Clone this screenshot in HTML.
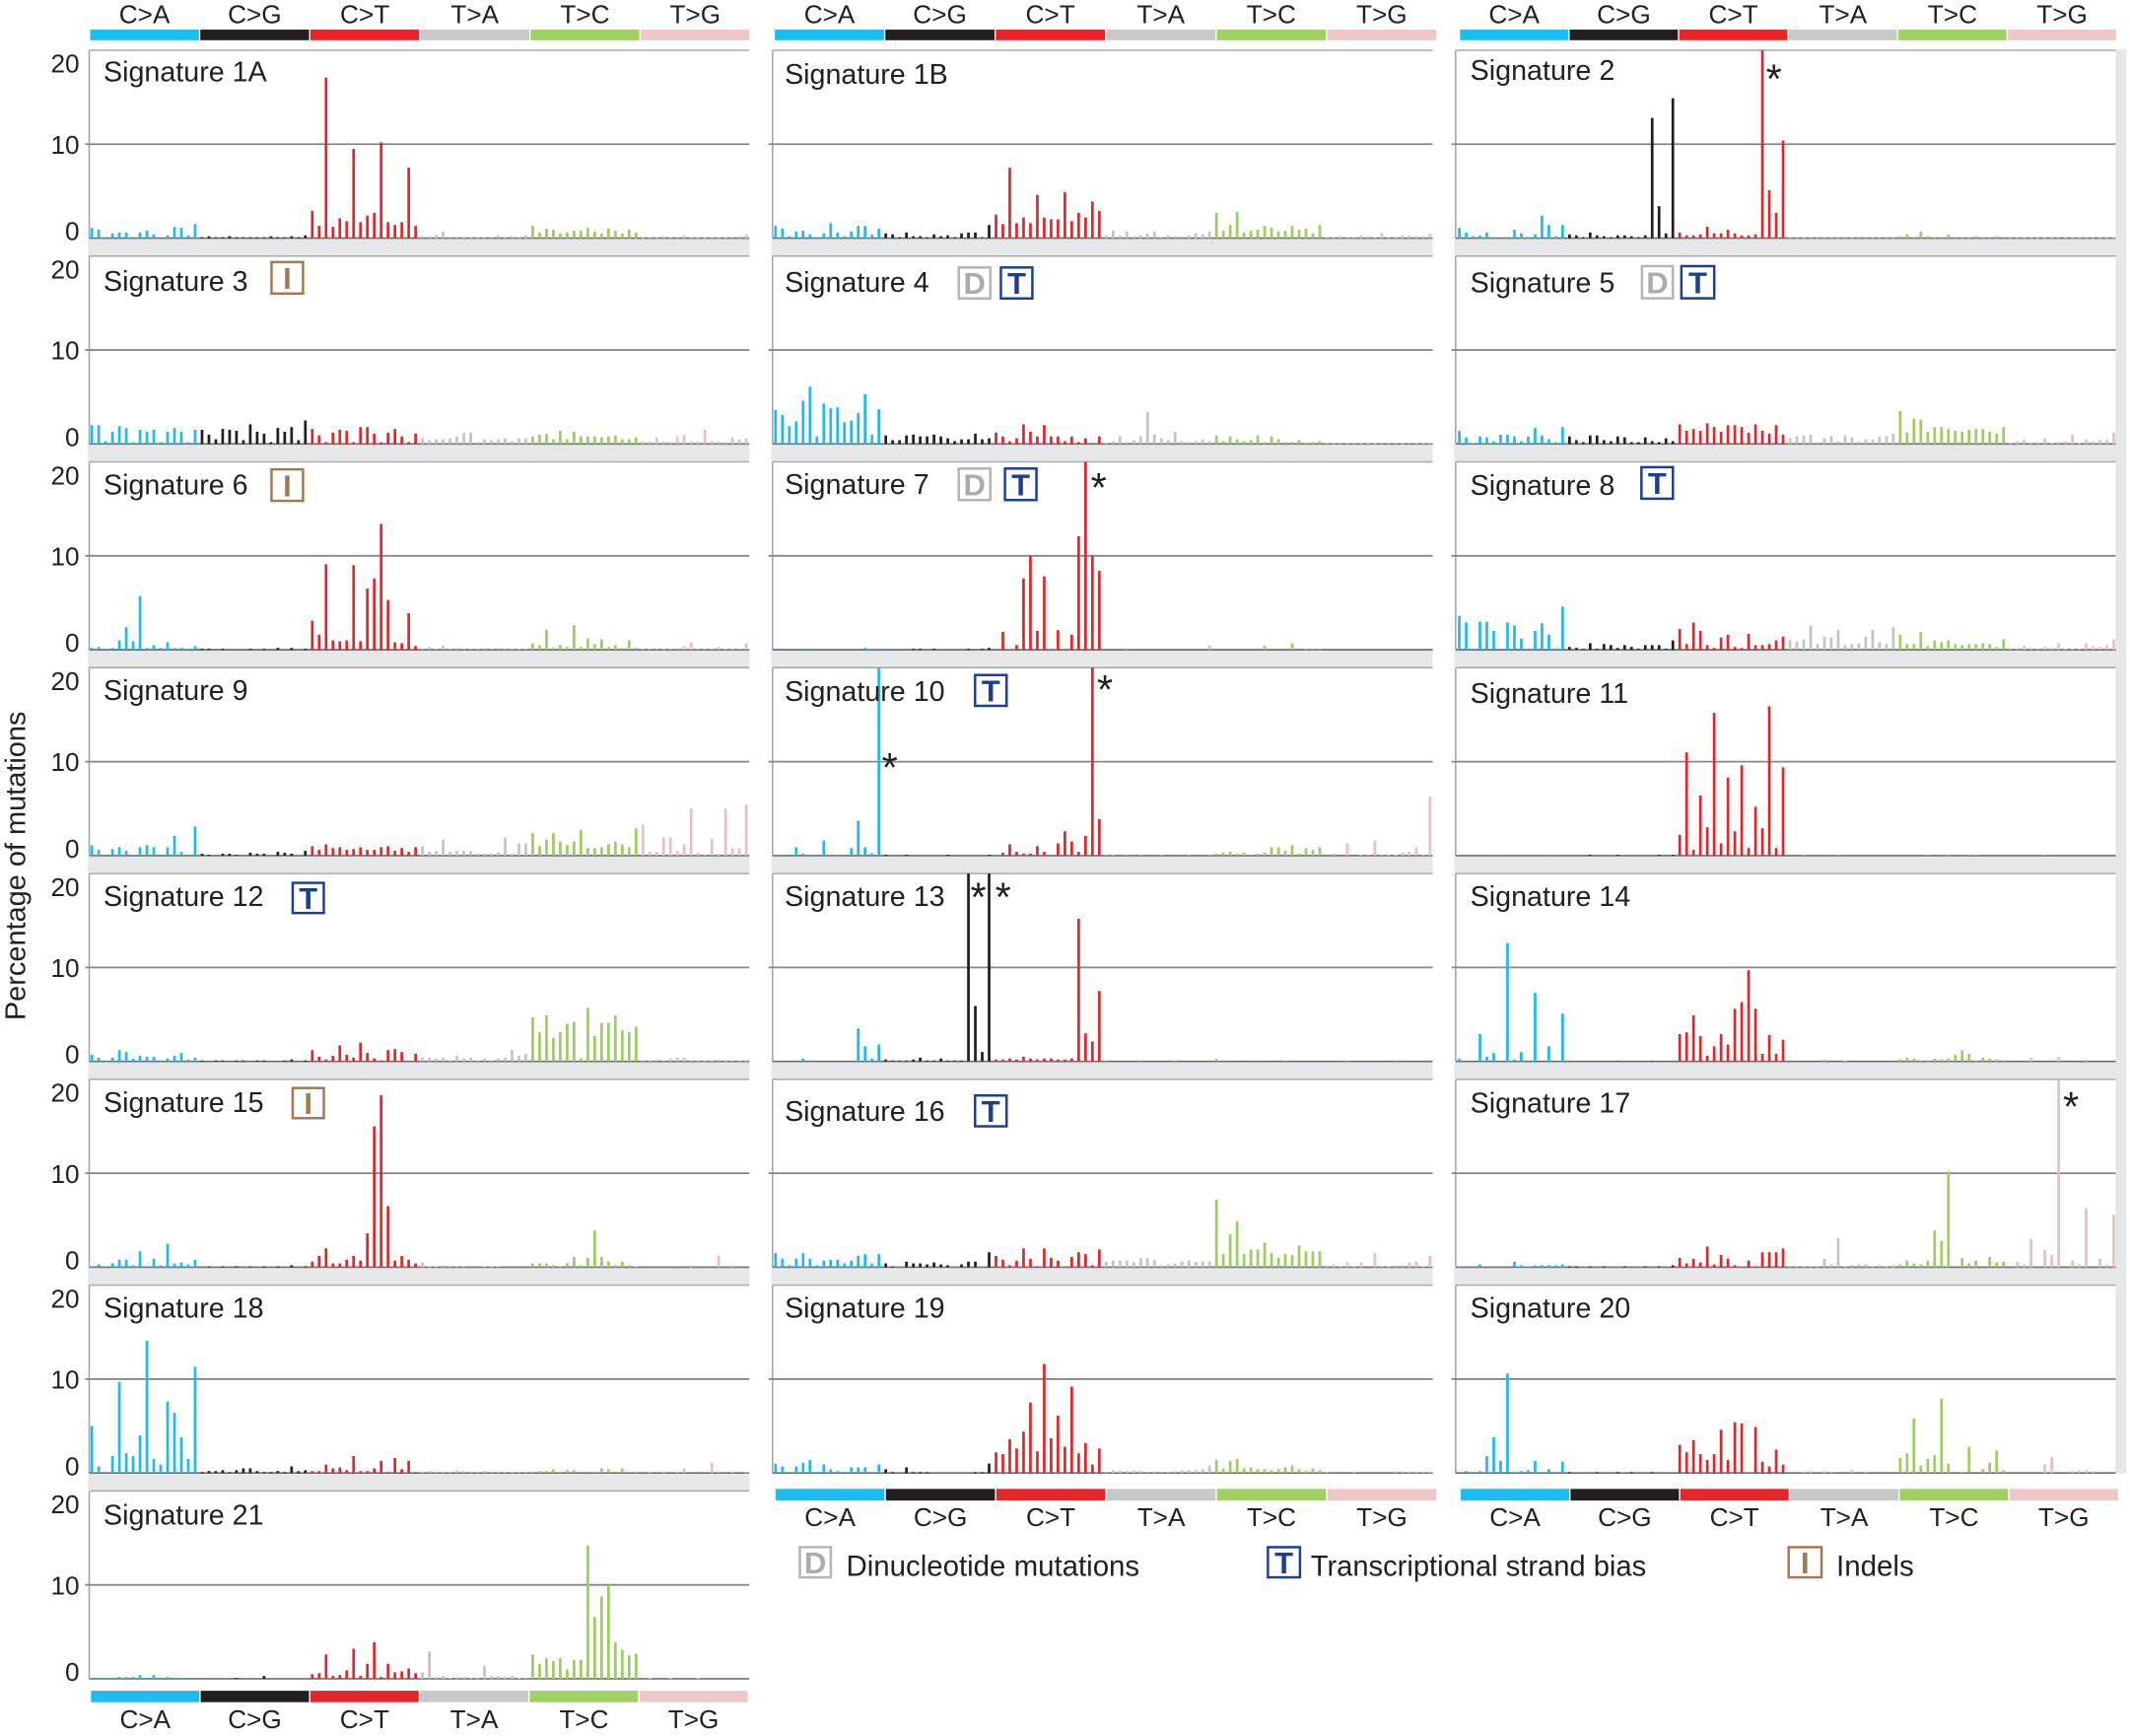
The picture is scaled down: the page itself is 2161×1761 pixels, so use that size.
<!DOCTYPE html>
<html><head><meta charset="utf-8"><style>
html,body{margin:0;padding:0;background:#fff}
svg{display:block}
text{font-family:"Liberation Sans",Arial,Helvetica,sans-serif;fill:#231f20}
.tt{font-size:20.8px}
.tk{font-size:19px;text-anchor:end}
.cl{font-size:19px;text-anchor:middle}
.lg{font-size:21.4px}
.bl{font-size:22.5px;font-weight:bold;text-anchor:middle}
.st{font-size:30px;text-anchor:middle}
.a{stroke:#1ebcee}.g{stroke:#231f20}.r{stroke:#e3262a}.y{stroke:#c3c3c3}.n{stroke:#9ccd5e}.p{stroke:#eabfc1}
.fa{fill:#1ebcee}.fg{fill:#231f20}.fr{fill:#e3262a}.fy{fill:#c8c8c8}.fn{fill:#a0d063}.fp{fill:#eec7c8}
</style></head><body>
<svg xmlns="http://www.w3.org/2000/svg" xmlns:xlink="http://www.w3.org/1999/xlink" width="2161" height="1761" viewBox="0 0 1568.2 1277.9" preserveAspectRatio="none">
<defs>
<path id="t1" d="M0 0V.1M1 0V.1M2 0V.1M3 0V.1M4 0V.1M5 0V.1M6 0V.1M7 0V.1M8 0V.1M9 0V.1M10 0V.1M11 0V.1M12 0V.1M13 0V.1M14 0V.1M15 0V.1"/>
<g id="fr7" fill="none">
<path stroke="#a2a4a7" stroke-width="1.1" d="M0 37V175.3M0 188.5V326.8M0 340V478.3M0 491.5V629.8M0 643V781.3M0 794.5V932.8M0 946V1084.3"/>
<path stroke="#a7a9ac" stroke-width="1.1" d="M0 37H486M0 188.5H486M0 340H486M0 491.5H486M0 643H486M0 794.5H486M0 946H486"/>
<path stroke="#858789" stroke-width="1.3" d="M-3 106.15H486M-3 257.65H486M-3 409.15H486M-3 560.65H486M-3 712.15H486M-3 863.65H486M-3 1015.15H486"/>
<path stroke="#6d6e71" stroke-width="1.2" d="M0 175.3H486M0 326.8H486M0 478.3H486M0 629.8H486M0 781.3H486M0 932.8H486M0 1084.3H486"/>
</g>
</defs>
<rect x="0" y="0" width="1568.2" height="1277.9" fill="#fff"/>

<!-- bands -->
<g fill="#e6e7e8">
<rect x="64.7" y="175.9" width="487.1" height="12"/><rect x="64.7" y="327.4" width="487.1" height="12"/><rect x="64.7" y="478.9" width="487.1" height="12"/><rect x="64.7" y="630.4" width="487.1" height="12"/><rect x="64.7" y="781.9" width="487.1" height="12"/><rect x="64.7" y="933.4" width="487.1" height="12"/><rect x="64.7" y="1084.9" width="487.1" height="12"/>
<rect x="567.8" y="175.9" width="487" height="12"/><rect x="567.8" y="327.4" width="487" height="12"/><rect x="567.8" y="478.9" width="487" height="12"/><rect x="567.8" y="630.4" width="487" height="12"/><rect x="567.8" y="781.9" width="487" height="12"/><rect x="567.8" y="933.4" width="487" height="12"/>
<rect x="1070.7" y="175.9" width="494.8" height="12"/><rect x="1070.7" y="327.4" width="494.8" height="12"/><rect x="1070.7" y="478.9" width="494.8" height="12"/><rect x="1070.7" y="630.4" width="494.8" height="12"/><rect x="1070.7" y="781.9" width="494.8" height="12"/><rect x="1070.7" y="933.4" width="494.8" height="12"/>
<rect x="1557.6" y="36.5" width="8" height="1048"/>
</g>

<!-- frames -->
<use xlink:href="#fr7" href="#fr7" x="65.7" y="0"/>
<use xlink:href="#fr7" href="#fr7" x="568.8" y="0"/>
<use xlink:href="#fr7" href="#fr7" x="1071.7" y="0"/>
<g fill="none">
<path stroke="#a2a4a7" stroke-width="1.1" d="M65.7 1097.5V1235.8"/>
<path stroke="#a7a9ac" stroke-width="1.1" d="M65.7 1097.5H551.7"/>
<path stroke="#858789" stroke-width="1.3" d="M62.7 1166.65H551.7"/>
<path stroke="#6d6e71" stroke-width="1.2" d="M65.7 1235.8H551.7"/>
</g>

<!-- bars -->
<g fill="none" stroke-width=".39">
<!-- Sig 1A -->
<g transform="translate(67.6 175.3) scale(5.072 -6.915)">
<path class="a" d="M0 0V1.1M1 0V.9M2 0V.1M3 0V.5M4 0V.6M5 0V.6M7 0V.6M8 0V.8M9 0V.4M11 0V.3M12 0V1.2M13 0V1.1M14 0V.3M15 0V1.5"/>
<path class="g" transform="translate(16)" d="M0 0V.1M1 0V.2M2 0V.1M3 0V.1M4 0V.2M5 0V.1M6 0V.1M7 0V.1M8 0V.1M9 0V.1M10 0V.2M11 0V.1M12 0V.1M13 0V.2M14 0V.1M15 0V.3"/>
<path class="r" transform="translate(32)" d="M0 0V2.9M1 0V1.3M2 0V17.1M3 0V1.2M4 0V2.1M5 0V1.8M6 0V9.5M7 0V1.7M8 0V2.4M9 0V2.7M10 0V10.2M11 0V1.7M12 0V1.4M13 0V1.7M14 0V7.5M15 0V1.3"/>
<path class="y" transform="translate(48)" d="M0 0V.2M1 0V.2M2 0V.3M3 0V.7M4 0V.1M5 0V.1M6 0V.1M7 0V.1M8 0V.1M9 0V.1M10 0V.1M11 0V.3M12 0V.1M13 0V.2M14 0V.1M15 0V.3"/>
<path class="n" transform="translate(64)" d="M0 0V1.3M1 0V.6M2 0V1M3 0V.9M4 0V.5M5 0V.6M6 0V.8M7 0V.8M8 0V1.1M9 0V.7M10 0V.5M11 0V1M12 0V.8M13 0V.5M14 0V.9M15 0V.6"/>
<path class="p" transform="translate(80)" d="M0 0V.1M1 0V.1M2 0V.1M3 0V.2M4 0V.1M5 0V.1M6 0V.3M7 0V.1M8 0V.1M9 0V.1M10 0V.1M11 0V.1M12 0V.1M13 0V.1M14 0V.2M15 0V.4"/>
</g>
<!-- Sig 3 -->
<g transform="translate(67.6 326.8) scale(5.072 -6.915)">
<path class="a" d="M0 0V2M1 0V2M2 0V.3M3 0V1.3M4 0V1.9M5 0V1.7M6 0V.2M7 0V1.5M8 0V1.3M9 0V1.5M10 0V.2M11 0V1.3M12 0V1.7M13 0V1.3M14 0V.2M15 0V1.5"/>
<path class="g" transform="translate(16)" d="M0 0V1.5M1 0V1M2 0V.5M3 0V1.6M4 0V1.5M5 0V1.4M6 0V.4M7 0V2.1M8 0V1.3M9 0V1.1M10 0V.2M11 0V1.7M12 0V1.3M13 0V1.8M14 0V.4M15 0V2.5"/>
<path class="r" transform="translate(32)" d="M0 0V1.6M1 0V.9M2 0V.2M3 0V1.2M4 0V1.5M5 0V1.4M6 0V.2M7 0V1.8M8 0V1.8M9 0V1.1M10 0V.2M11 0V1.2M12 0V1.6M13 0V.8M14 0V.2M15 0V1.1"/>
<path class="y" transform="translate(48)" d="M0 0V.6M1 0V.4M2 0V.5M3 0V.5M4 0V.6M5 0V.8M6 0V1.2M7 0V1.2M8 0V.2M9 0V.5M10 0V.4M11 0V.5M12 0V.6M13 0V.3M14 0V.6M15 0V.6"/>
<path class="n" transform="translate(64)" d="M0 0V.8M1 0V1M2 0V1.1M3 0V.5M4 0V1.4M5 0V.5M6 0V1.3M7 0V.8M8 0V.8M9 0V.8M10 0V.7M11 0V.8M12 0V.9M13 0V.5M14 0V.5M15 0V.7"/>
<path class="p" transform="translate(80)" d="M0 0V.3M1 0V.3M2 0V.7M3 0V.3M4 0V.2M5 0V.8M6 0V1M7 0V.3M8 0V.3M9 0V1.5M10 0V.3M11 0V.3M12 0V.2M13 0V.7M14 0V.5M15 0V.6"/>
</g>
<!-- Sig 6 -->
<g transform="translate(67.6 478.3) scale(5.072 -6.915)">
<path class="a" d="M0 0V.2M1 0V.3M3 0V.2M4 0V1M5 0V2.4M6 0V.9M7 0V5.7M8 0V.2M9 0V.5M10 0V.2M11 0V.8M12 0V.2M13 0V.2M14 0V.1M15 0V.4"/>
<path class="g" transform="translate(16)" d="M0 0V.1M1 0V.1M3 0V.1M7 0V.1M9 0V.1M11 0V.2M13 0V.2M15 0V.1"/>
<path class="r" transform="translate(32)" d="M0 0V3.1M1 0V1.6M2 0V9.1M3 0V1M4 0V.9M5 0V1M6 0V9M7 0V.9M8 0V6.5M9 0V7.6M10 0V13.4M11 0V5.3M12 0V.8M13 0V.7M14 0V3.9M15 0V.4"/>
<path class="y" transform="translate(48)" d="M0 0V.1M1 0V.3M2 0V.1M3 0V.4M4 0V.1M5 0V.2M6 0V.1M7 0V.1M8 0V.1M9 0V.2M10 0V.1M11 0V.2M12 0V.1M13 0V.1M14 0V.1M15 0V.1"/>
<path class="n" transform="translate(64)" d="M0 0V.7M1 0V.5M2 0V2.1M3 0V.2M4 0V.5M5 0V.3M6 0V2.6M7 0V.3M8 0V1.2M9 0V.6M10 0V1.1M11 0V.3M12 0V.5M13 0V.2M14 0V1M15 0V.2"/>
<path class="p" transform="translate(80)" d="M0 0V.1M1 0V.1M2 0V.2M3 0V.1M4 0V.1M5 0V.2M6 0V.4M7 0V.8M8 0V.1M9 0V.1M10 0V.1M11 0V.3M12 0V.1M13 0V.1M14 0V.1M15 0V.7"/>
</g>
<!-- Sig 9 -->
<g transform="translate(67.6 629.8) scale(5.072 -6.915)">
<path class="a" d="M0 0V1.1M1 0V.6M3 0V.7M4 0V.9M5 0V.5M7 0V.9M8 0V1.1M9 0V.9M11 0V.9M12 0V2.1M13 0V.4M15 0V3.1"/>
<path class="g" transform="translate(16)" d="M0 0V.2M1 0V.1M3 0V.2M4 0V.2M5 0V.1M7 0V.3M8 0V.2M9 0V.2M11 0V.4M12 0V.3M13 0V.2M15 0V.5"/>
<path class="r" transform="translate(32)" d="M0 0V1M1 0V.6M2 0V1.2M3 0V.8M4 0V.9M5 0V.6M6 0V.7M7 0V.9M8 0V.6M9 0V.6M10 0V.9M11 0V1M12 0V.5M13 0V.8M14 0V.4M15 0V.9"/>
<path class="y" transform="translate(48)" d="M0 0V1M1 0V.4M2 0V.5M3 0V1.7M4 0V.4M5 0V.5M6 0V.5M7 0V.5M8 0V.2M9 0V.2M10 0V.2M11 0V.3M12 0V1.9M13 0V.2M14 0V1.3M15 0V1.3"/>
<path class="n" transform="translate(64)" d="M0 0V2.4M1 0V1M2 0V1.7M3 0V2.4M4 0V1.5M5 0V1.1M6 0V1.5M7 0V2.7M8 0V.8M9 0V.8M10 0V.9M11 0V1.2M12 0V1.5M13 0V1.2M14 0V.9M15 0V2.9"/>
<path class="p" transform="translate(80)" d="M0 0V3.3M1 0V.4M2 0V.4M3 0V1.9M4 0V1.9M5 0V.5M6 0V1.2M7 0V5M8 0V.3M9 0V.1M10 0V1.8M11 0V.2M12 0V5M13 0V.8M14 0V.8M15 0V5.4"/>
</g>
<!-- Sig 12 -->
<g transform="translate(67.6 781.3) scale(5.072 -6.915)">
<path class="a" d="M0 0V.7M1 0V.4M2 0V.1M3 0V.4M4 0V1.2M5 0V1M6 0V.3M7 0V.6M8 0V.5M9 0V.5M10 0V.1M11 0V.3M12 0V.6M13 0V.9M14 0V.2M15 0V.4"/>
<path class="g" transform="translate(16)" d="M0 0V.1M2 0V.1M3 0V.1M5 0V.1M6 0V.1M8 0V.1M9 0V.1M12 0V.1M13 0V.2M15 0V.1"/>
<path class="r" transform="translate(32)" d="M0 0V1.2M1 0V.5M2 0V.2M3 0V.6M4 0V1.7M5 0V.7M6 0V.4M7 0V2M8 0V.9M9 0V.3M10 0V.1M11 0V1.2M12 0V1.3M13 0V1M15 0V.8"/>
<path class="y" transform="translate(48)" d="M0 0V.4M1 0V.4M2 0V.3M3 0V.4M4 0V.1M5 0V.6M6 0V.3M7 0V.4M8 0V.1M9 0V.3M10 0V.1M11 0V.3M12 0V.4M13 0V1.2M14 0V.6M15 0V.8"/>
<path class="n" transform="translate(64)" d="M0 0V4.7M1 0V3.1M2 0V4.9M3 0V2.5M4 0V3.1M5 0V4M6 0V4.2M7 0V.3M8 0V5.7M9 0V2.7M10 0V4.1M11 0V4.1M12 0V4.9M13 0V3.3M14 0V3.1M15 0V3.7"/>
<path class="p" transform="translate(80)" d="M0 0V.1M1 0V.1M2 0V.2M3 0V.1M4 0V.3M5 0V.4M6 0V.4M7 0V.1M8 0V.1M9 0V.1M10 0V.1M11 0V.2M12 0V.1M13 0V.1M14 0V.1M15 0V.1"/>
</g>
<!-- Sig 15 -->
<g transform="translate(67.6 932.8) scale(5.072 -6.915)">
<path class="a" d="M0 0V.1M1 0V.3M3 0V.4M4 0V.8M5 0V.8M6 0V.2M7 0V1.7M8 0V.1M9 0V.9M10 0V.2M11 0V2.5M12 0V.4M13 0V.5M14 0V.3M15 0V.8"/>
<path class="g" transform="translate(16)" d="M1 0V.1M3 0V.1M5 0V.1M7 0V.1M9 0V.1M11 0V.1M13 0V.2M15 0V.1"/>
<path class="r" transform="translate(32)" d="M0 0V.6M1 0V1.2M2 0V2M3 0V.4M4 0V.4M5 0V.8M6 0V1.2M7 0V.7M8 0V3.6M9 0V15M10 0V18.3M11 0V6.5M12 0V.7M13 0V1.2M14 0V.8M15 0V.4"/>
<path class="y" transform="translate(48)" d="M0 0V.5M1 0V.1M2 0V.1M3 0V.2M4 0V.1M5 0V.1M6 0V.1M9 0V.1M10 0V.1M11 0V.1"/>
<path class="n" transform="translate(64)" d="M0 0V.4M1 0V.4M2 0V.4M3 0V.2M4 0V.1M5 0V.4M6 0V1.1M7 0V.2M8 0V1M9 0V3.9M10 0V1.1M11 0V.6M12 0V.2M13 0V.6M14 0V.2M15 0V.1"/>
<path class="p" transform="translate(80)" d="M7 0V.2M11 0V1.2M13 0V.2"/>
</g>
<!-- Sig 18 -->
<g transform="translate(67.6 1084.3) scale(5.072 -6.915)">
<path class="a" d="M0 0V5M1 0V.7M2 0V.1M3 0V1.8M4 0V9.7M5 0V2.1M6 0V1.8M7 0V4M8 0V14.1M9 0V1.5M10 0V.9M11 0V7.6M12 0V6.4M13 0V3.8M14 0V1.5M15 0V11.3"/>
<path class="g" transform="translate(16)" d="M0 0V.1M1 0V.2M2 0V.2M3 0V.3M4 0V.1M5 0V.3M6 0V.5M7 0V.5M8 0V.2M9 0V.1M10 0V.1M11 0V.2M12 0V.1M13 0V.7M14 0V.2M15 0V.3"/>
<path class="r" transform="translate(32)" d="M0 0V.2M1 0V.2M2 0V.9M3 0V.5M4 0V.6M5 0V.3M6 0V1.8M7 0V.2M8 0V.2M9 0V.5M10 0V1.3M11 0V.1M12 0V1.6M13 0V.4M14 0V1.3M15 0V.1"/>
<path class="y" transform="translate(48)" d="M0 0V.1M1 0V.2M2 0V.1M3 0V.1M4 0V.1M5 0V.3M6 0V.2M7 0V.1M8 0V.1M9 0V.2M10 0V.1M11 0V.1M12 0V.1M13 0V.1M14 0V.1M15 0V.1"/>
<path class="n" transform="translate(64)" d="M0 0V.1M1 0V.2M2 0V.2M3 0V.4M4 0V.1M5 0V.3M6 0V.3M9 0V.1M10 0V.5M11 0V.4M13 0V.5M14 0V.1M15 0V.1"/>
<path class="p" transform="translate(80)" d="M1 0V.1M3 0V.1M5 0V.1M6 0V.5M10 0V1.1M11 0V.2M13 0V.1M15 0V.1"/>
</g>
<!-- Sig 21 -->
<g transform="translate(67.6 1235.8) scale(5.072 -6.915)">
<path class="a" d="M0 0V.1M1 0V.1M2 0V.1M3 0V.1M4 0V.2M5 0V.2M6 0V.2M7 0V.4M8 0V.1M9 0V.4M10 0V.1M11 0V.2M12 0V.1M13 0V.1M15 0V.1"/>
<path class="g" transform="translate(16)" d="M5 0V.1M9 0V.3"/>
<path class="r" transform="translate(32)" d="M0 0V.5M1 0V.6M2 0V2.6M3 0V.3M4 0V.4M5 0V.9M6 0V3.2M7 0V.3M8 0V1.6M9 0V3.9M10 0V.2M11 0V1.6M12 0V.7M13 0V.8M14 0V1.1M15 0V.6"/>
<path class="y" transform="translate(48)" d="M0 0V.7M1 0V2.9M2 0V.2M3 0V.3M4 0V.1M5 0V.2M6 0V.2M7 0V.1M8 0V.1M9 0V1.4M10 0V.3M11 0V.3M12 0V.2M13 0V.3M14 0V.1M15 0V.1"/>
<path class="n" transform="translate(64)" d="M0 0V2.6M1 0V1.6M2 0V2.2M3 0V1.9M4 0V2.2M5 0V1M6 0V2M7 0V2M8 0V14.2M9 0V6.6M10 0V8.8M11 0V10M12 0V3.9M13 0V3.1M14 0V2.5M15 0V2.7"/>
<path class="p" transform="translate(80)" d="M1 0V.1M4 0V.1M8 0V.1"/>
</g>

<!-- Sig 1B -->
<g transform="translate(571 175.3) scale(5.072 -6.915)">
<path class="a" d="M0 0V1.3M1 0V1M2 0V.2M3 0V.7M4 0V.8M5 0V.4M6 0V.1M7 0V.5M8 0V1.6M9 0V.6M10 0V.2M11 0V.7M12 0V1.3M13 0V1.3M14 0V.4M15 0V1"/>
<path class="g" transform="translate(16)" d="M0 0V.5M1 0V.4M2 0V.1M3 0V.6M4 0V.2M5 0V.2M6 0V.1M7 0V.4M8 0V.2M9 0V.3M10 0V.1M11 0V.5M12 0V.6M13 0V.6M14 0V.1M15 0V1.4"/>
<path class="r" transform="translate(32)" d="M0 0V2.5M1 0V1.5M2 0V7.5M3 0V1.6M4 0V2.2M5 0V1.6M6 0V4.6M7 0V2.2M8 0V2M9 0V2M10 0V4.9M11 0V1.8M12 0V2.7M13 0V2.2M14 0V3.9M15 0V2.9"/>
<path class="y" transform="translate(48)" d="M0 0V.3M1 0V.8M2 0V.3M3 0V.7M4 0V.2M5 0V.3M6 0V.5M7 0V.7M8 0V.1M9 0V.3M10 0V.2M11 0V.2M12 0V.3M13 0V.5M14 0V.4M15 0V.7"/>
<path class="n" transform="translate(64)" d="M0 0V2.7M1 0V.8M2 0V1.4M3 0V2.8M4 0V.6M5 0V.8M6 0V.9M7 0V1.3M8 0V1.1M9 0V.7M10 0V.8M11 0V1.3M12 0V.9M13 0V1M14 0V.5M15 0V1.4"/>
<path class="p" transform="translate(80)" d="M0 0V.1M1 0V.1M2 0V.2M3 0V.1M4 0V.1M5 0V.3M6 0V.2M7 0V.1M8 0V.6M9 0V.1M10 0V.1M11 0V.3M12 0V.3M13 0V.2M14 0V.2M15 0V.5"/>
</g>
<!-- Sig 4 -->
<g transform="translate(571 326.8) scale(5.072 -6.915)">
<path class="a" d="M0 0V3.6M1 0V3.1M2 0V1.9M3 0V2.4M4 0V4.6M5 0V6.1M6 0V.8M7 0V4.3M8 0V3.8M9 0V3.9M10 0V2.3M11 0V2.5M12 0V3.3M13 0V5.3M14 0V1M15 0V3.7"/>
<path class="g" transform="translate(16)" d="M0 0V.9M1 0V.4M2 0V.4M3 0V.9M4 0V1M5 0V.8M6 0V.8M7 0V1M8 0V.8M9 0V.6M10 0V.3M11 0V.5M12 0V.5M13 0V1.1M14 0V.5M15 0V.6"/>
<path class="r" transform="translate(32)" d="M0 0V1.2M1 0V.8M2 0V.3M3 0V.6M4 0V2.1M5 0V1.3M6 0V.8M7 0V2M8 0V.8M9 0V.8M10 0V.3M11 0V.8M12 0V.2M13 0V.6M14 0V.1M15 0V.8"/>
<path class="y" transform="translate(48)" d="M0 0V.1M1 0V.3M2 0V.8M3 0V.2M4 0V.4M5 0V.8M6 0V3.4M7 0V1M8 0V.6M9 0V.4M10 0V1.3M11 0V.3M12 0V.2M13 0V.3M14 0V.5M15 0V.3"/>
<path class="n" transform="translate(64)" d="M0 0V.9M1 0V.3M2 0V.8M3 0V.5M4 0V.3M5 0V.4M6 0V.9M7 0V.2M8 0V.8M9 0V.5M10 0V.2M11 0V.2M12 0V.4M13 0V.1M14 0V.2M15 0V.3"/>
<use class="p" xlink:href="#t1" href="#t1" transform="translate(80)"/>
</g>
<!-- Sig 7 -->
<g transform="translate(571 478.3) scale(5.072 -6.915)">
<path class="a" d="M0 0V.1M5 0V.1M13 0V.2M15 0V.1"/>
<path class="g" transform="translate(16)" d="M4 0V.1M5 0V.1M7 0V.1M12 0V.1M14 0V.1M15 0V.2"/>
<path class="r" transform="translate(32)" d="M1 0V1.9M3 0V.5M4 0V7.6M5 0V10M6 0V2M7 0V7.8M9 0V2.1M11 0V1.6M12 0V12.1M13 0V20M14 0V10M15 0V8.4"/>
<path class="y" transform="translate(48)" d="M3 0V.2M15 0V.5"/>
<path class="n" transform="translate(64)" d="M7 0V.4M11 0V.7M13 0V.1M14 0V.1M15 0V.1"/>
</g>
<!-- Sig 10 -->
<g transform="translate(571 629.8) scale(5.072 -6.915)">
<path class="a" d="M3 0V.9M4 0V.2M7 0V1.6M8 0V.1M9 0V.1M11 0V.8M12 0V3.7M13 0V.9M14 0V.2M15 0V20"/>
<path class="g" transform="translate(16)" d="M0 0V.1M3 0V.1M9 0V.1M15 0V.1"/>
<path class="r" transform="translate(32)" d="M1 0V.3M2 0V1.2M3 0V.4M4 0V.2M5 0V.2M6 0V1M7 0V.4M9 0V1.3M10 0V2.6M11 0V1.5M12 0V.4M13 0V2.1M14 0V20M15 0V3.9"/>
<path class="y" transform="translate(48)" d="M0 0V.1M1 0V.1M3 0V.1M5 0V.1M8 0V.1M12 0V.1M15 0V.1"/>
<path class="n" transform="translate(64)" d="M0 0V.2M1 0V.3M2 0V.4M3 0V.2M4 0V.3M5 0V.1M6 0V.2M7 0V.3M8 0V.9M9 0V.9M10 0V.5M11 0V1.1M12 0V.2M13 0V.8M14 0V.6M15 0V.9"/>
<path class="p" transform="translate(80)" d="M1 0V.2M3 0V1.3M5 0V.1M6 0V.1M7 0V1.6M8 0V.1M9 0V.1M10 0V.1M11 0V.3M12 0V.4M13 0V.9M14 0V.1M15 0V6.3"/>
</g>
<!-- Sig 13 -->
<g transform="translate(571 781.3) scale(5.072 -6.915)">
<path class="a" d="M4 0V.3M5 0V.1M12 0V3.5M13 0V1.6M14 0V.3M15 0V1.8"/>
<path class="g" transform="translate(16)" d="M0 0V.2M1 0V.1M2 0V.1M3 0V.1M4 0V.2M5 0V.4M6 0V.1M7 0V.1M8 0V.3M9 0V.1M10 0V.1M11 0V.1M12 0V20M13 0V5.9M14 0V1M15 0V20"/>
<path class="r" transform="translate(32)" d="M0 0V.2M1 0V.2M2 0V.3M3 0V.2M4 0V.5M5 0V.3M6 0V.2M7 0V.3M8 0V.3M9 0V.2M10 0V.2M11 0V.3M12 0V15.2M13 0V3M14 0V2.1M15 0V7.5"/>
<path class="y" transform="translate(48)" d="M0 0V.05M5 0V.05M10 0V.05"/>
<path class="n" transform="translate(64)" d="M0 0V.3M5 0V.05M10 0V.05"/>
<path class="p" transform="translate(80)" d="M3 0V.05M10 0V.05"/>
</g>
<!-- Sig 16 -->
<g transform="translate(571 932.8) scale(5.072 -6.915)">
<path class="a" d="M0 0V1.5M1 0V.9M2 0V.2M3 0V.9M4 0V1.5M5 0V.9M6 0V.2M7 0V.7M8 0V.8M9 0V.8M10 0V.4M11 0V.7M12 0V1.2M13 0V1.4M14 0V.4M15 0V1.4"/>
<path class="g" transform="translate(16)" d="M0 0V.4M1 0V.1M3 0V.6M4 0V.4M5 0V.4M6 0V.3M7 0V.5M8 0V.3M9 0V.2M11 0V.3M12 0V.6M13 0V.6M15 0V1.6"/>
<path class="r" transform="translate(32)" d="M0 0V1.2M1 0V.8M2 0V.2M3 0V.7M4 0V2M5 0V.9M6 0V.1M7 0V2M8 0V1M9 0V.7M11 0V1.1M12 0V1.6M13 0V1.4M14 0V.2M15 0V1.9"/>
<path class="y" transform="translate(48)" d="M0 0V.6M1 0V.7M2 0V.7M3 0V.7M4 0V.5M5 0V1M6 0V1M7 0V.8M8 0V.2M9 0V.3M10 0V.4M11 0V.6M12 0V.7M13 0V.6M14 0V.6M15 0V.6"/>
<path class="n" transform="translate(64)" d="M0 0V7.2M1 0V1.4M2 0V3.5M3 0V4.9M4 0V1.4M5 0V1.9M6 0V1.9M7 0V2.6M8 0V1.5M9 0V1M10 0V1.4M11 0V1.3M12 0V2.3M13 0V1.7M14 0V1.7M15 0V1.7"/>
<path class="p" transform="translate(80)" d="M0 0V.2M1 0V.3M2 0V.1M3 0V.5M4 0V.1M5 0V.5M7 0V1.5M8 0V.1M9 0V.1M10 0V.2M11 0V.2M12 0V.5M13 0V.6M14 0V.1M15 0V1.2"/>
</g>
<!-- Sig 19 -->
<g transform="translate(571 1084.3) scale(5.072 -6.915)">
<path class="a" d="M0 0V1M1 0V.7M3 0V.7M4 0V1.1M5 0V1.4M6 0V.1M7 0V.9M8 0V.4M9 0V.2M11 0V.6M12 0V.6M13 0V.6M14 0V.1M15 0V.9"/>
<path class="g" transform="translate(16)" d="M0 0V.4M1 0V.1M3 0V.6M4 0V.1M5 0V.1M6 0V.1M13 0V.1M14 0V.1M15 0V1"/>
<path class="r" transform="translate(32)" d="M0 0V2.2M1 0V2M2 0V3.6M3 0V2.6M4 0V4.4M5 0V7.5M6 0V2.3M7 0V11.6M8 0V3.7M9 0V6.1M10 0V2.8M11 0V9.2M12 0V2.1M13 0V3.2M14 0V.9M15 0V2.6"/>
<path class="y" transform="translate(48)" d="M0 0V.1M1 0V.3M2 0V.2M3 0V.2M4 0V.3M5 0V.2M6 0V.1M7 0V.1M8 0V.1M9 0V.1M10 0V.2M11 0V.3M12 0V.3M13 0V.3M14 0V.4M15 0V.8"/>
<path class="n" transform="translate(64)" d="M0 0V1.4M1 0V.5M2 0V1.3M3 0V1.5M4 0V.5M5 0V.6M6 0V.4M7 0V.4M8 0V.3M9 0V.4M10 0V.6M11 0V.8M12 0V.4M13 0V.2M14 0V.5M15 0V.3"/>
<path class="p" transform="translate(80)" d="M0 0V.1M4 0V.1M10 0V.2M11 0V.2M12 0V.1M13 0V.1M14 0V.1M15 0V.1"/>
</g>

<!-- Sig 2 -->
<g transform="translate(1074.4 175.3) scale(5.072 -6.915)">
<path class="a" d="M0 0V1.1M1 0V.6M2 0V.2M3 0V.3M4 0V.6M5 0V.1M7 0V.1M8 0V.9M9 0V.5M10 0V.1M11 0V.4M12 0V2.4M13 0V1.4M14 0V.2M15 0V1.4"/>
<path class="g" transform="translate(16)" d="M0 0V.4M1 0V.3M2 0V.1M3 0V.6M4 0V.3M5 0V.2M6 0V.1M7 0V.3M8 0V.3M9 0V.2M10 0V.1M11 0V.3M12 0V12.8M13 0V3.4M14 0V.5M15 0V14.9"/>
<path class="r" transform="translate(32)" d="M0 0V.6M1 0V.3M2 0V.3M3 0V.4M4 0V1.2M5 0V.5M6 0V.5M7 0V.9M8 0V.5M9 0V.3M10 0V.3M11 0V.4M12 0V20M13 0V5.1M14 0V2.7M15 0V10.4"/>
<use class="y" xlink:href="#t1" href="#t1" transform="translate(48)"/>
<path class="n" transform="translate(64)" d="M0 0V.2M1 0V.4M2 0V.1M3 0V.7M4 0V.2M5 0V.1M6 0V.1M7 0V.4M8 0V.1M9 0V.1M10 0V.1M11 0V.2M12 0V.1M13 0V.1M14 0V.2M15 0V.1"/>
<use class="p" xlink:href="#t1" href="#t1" transform="translate(80)"/>
</g>
<!-- Sig 5 -->
<g transform="translate(1074.4 326.8) scale(5.072 -6.915)">
<path class="a" d="M0 0V1.4M1 0V.7M2 0V.1M3 0V.8M4 0V.7M5 0V.3M6 0V1M7 0V1M8 0V.8M9 0V.3M10 0V.8M11 0V1.7M12 0V.9M13 0V.5M14 0V.2M15 0V1.8"/>
<path class="g" transform="translate(16)" d="M0 0V.8M1 0V.4M2 0V.2M3 0V.9M4 0V.9M5 0V.4M6 0V.3M7 0V.8M8 0V.7M9 0V.2M10 0V.2M11 0V.7M12 0V.3M13 0V.2M14 0V.6M15 0V.3"/>
<path class="r" transform="translate(32)" d="M0 0V2.1M1 0V1.4M2 0V1.6M3 0V1.4M4 0V2.2M5 0V1.8M6 0V1.3M7 0V2M8 0V2M9 0V1.8M10 0V1.2M11 0V2.1M12 0V1.4M13 0V1.1M14 0V2M15 0V1"/>
<path class="y" transform="translate(48)" d="M0 0V.6M1 0V.8M2 0V.9M3 0V1M4 0V.2M5 0V.6M6 0V.8M7 0V.3M8 0V.9M9 0V.7M10 0V.3M11 0V.5M12 0V.5M13 0V.8M14 0V.8M15 0V1.1"/>
<path class="n" transform="translate(64)" d="M0 0V3.5M1 0V1.2M2 0V2.7M3 0V2.6M4 0V1.3M5 0V1.8M6 0V1.8M7 0V1.6M8 0V1.4M9 0V1.3M10 0V1.5M11 0V1.6M12 0V1.6M13 0V1.3M14 0V1.1M15 0V1.8"/>
<path class="p" transform="translate(80)" d="M0 0V.1M1 0V.3M2 0V.5M3 0V.2M4 0V.2M5 0V.6M6 0V.1M7 0V.2M8 0V.3M9 0V1M10 0V.1M11 0V.5M12 0V.3M13 0V.4M14 0V.5M15 0V1.2"/>
</g>
<!-- Sig 8 -->
<g transform="translate(1074.4 478.3) scale(5.072 -6.915)">
<path class="a" d="M0 0V3.6M1 0V2.9M2 0V.1M3 0V3M4 0V3M5 0V2M7 0V2.9M8 0V2.6M9 0V1.2M11 0V2M12 0V2.8M13 0V1.6M14 0V.1M15 0V4.6"/>
<path class="g" transform="translate(16)" d="M0 0V.3M1 0V.2M2 0V.1M3 0V.7M4 0V.1M5 0V.6M6 0V.5M7 0V.2M8 0V.5M9 0V.3M10 0V.1M11 0V.5M12 0V.5M13 0V.5M14 0V.1M15 0V1"/>
<path class="r" transform="translate(32)" d="M0 0V2.2M1 0V.6M2 0V2.9M3 0V2M4 0V.5M5 0V.2M6 0V1.3M7 0V1.6M8 0V.3M9 0V.2M10 0V1.7M11 0V.5M12 0V.5M13 0V.6M14 0V1M15 0V1.4"/>
<path class="y" transform="translate(48)" d="M0 0V1M1 0V.9M2 0V1.1M3 0V2.6M4 0V.6M5 0V1.4M6 0V1.3M7 0V2.1M8 0V.5M9 0V.6M10 0V.7M11 0V1.4M12 0V2.1M13 0V.8M14 0V.6M15 0V2.4"/>
<path class="n" transform="translate(64)" d="M0 0V1.6M1 0V.6M2 0V.6M3 0V1.9M4 0V.4M5 0V1M6 0V.8M7 0V1M8 0V.6M9 0V.5M10 0V.6M11 0V.6M12 0V.7M13 0V.6M14 0V.3M15 0V1.1"/>
<path class="p" transform="translate(80)" d="M0 0V.2M1 0V.2M2 0V.4M3 0V.2M4 0V.1M5 0V.3M6 0V.2M7 0V.7M8 0V.1M9 0V.1M10 0V.1M11 0V.7M12 0V.4M13 0V.3M14 0V.5M15 0V1.1"/>
</g>
<!-- Sig 11 -->
<g transform="translate(1074.4 629.8) scale(5.072 -6.915)">
<path class="a" d="M5 0V.1M13 0V.1"/>
<path class="g" transform="translate(16)" d="M3 0V.1M7 0V.1M13 0V.1M15 0V.1"/>
<path class="r" transform="translate(32)" d="M0 0V2.2M1 0V11M2 0V.6M3 0V6.4M4 0V3M5 0V15.2M6 0V1.3M7 0V8.3M8 0V2.6M9 0V9.6M10 0V.8M11 0V5.2M12 0V2.9M13 0V15.9M14 0V.8M15 0V9.4"/>
<path class="y" transform="translate(48)" d="M2 0V.05M7 0V.05"/>
<path class="n" transform="translate(64)" d="M4 0V.1M7 0V.1M10 0V.1M11 0V.1"/>
<path class="p" transform="translate(80)" d="M5 0V.05"/>
</g>
<!-- Sig 14 -->
<g transform="translate(1074.4 781.3) scale(5.072 -6.915)">
<path class="a" d="M0 0V.3M3 0V2.9M4 0V.5M5 0V.9M7 0V12.6M8 0V.2M9 0V1M11 0V7.3M13 0V1.6M15 0V5.1"/>
<path class="g" transform="translate(16)" d="M7 0V.05M12 0V.05"/>
<path class="r" transform="translate(32)" d="M0 0V2.9M1 0V3.1M2 0V4.9M3 0V2.7M4 0V.6M5 0V1.6M6 0V2.9M7 0V1.8M8 0V5.6M9 0V6.3M10 0V9.7M11 0V5.6M12 0V.8M13 0V2.8M14 0V.8M15 0V2.3"/>
<path class="y" transform="translate(48)" d="M5 0V.2M8 0V.1"/>
<path class="n" transform="translate(64)" d="M0 0V.2M1 0V.4M2 0V.3M3 0V.1M4 0V.1M5 0V.3M6 0V.2M7 0V.3M8 0V.7M9 0V1.2M10 0V.8M11 0V.1M12 0V.4M13 0V.3M14 0V.2M15 0V.1"/>
<path class="p" transform="translate(80)" d="M3 0V.4M7 0V.5M11 0V.2"/>
</g>
<!-- Sig 17 -->
<g transform="translate(1074.4 932.8) scale(5.072 -6.915)">
<path class="a" d="M0 0V.1M3 0V.3M8 0V.6M9 0V.2M10 0V.1M11 0V.2M12 0V.2M13 0V.2M14 0V.2M15 0V.3"/>
<path class="g" transform="translate(16)" d="M0 0V.1M1 0V.1M3 0V.1M5 0V.1M8 0V.1M11 0V.1M13 0V.1M15 0V.2"/>
<path class="r" transform="translate(32)" d="M0 0V1M1 0V.4M2 0V.9M3 0V.5M4 0V2.2M5 0V.3M6 0V1.3M7 0V.9M8 0V.2M10 0V.7M11 0V.1M12 0V1.6M13 0V1.6M14 0V1.6M15 0V2"/>
<path class="y" transform="translate(48)" d="M0 0V.1M1 0V.1M2 0V.1M3 0V.1M4 0V.1M5 0V.9M6 0V.3M7 0V3.1M8 0V.1M9 0V.2M10 0V.3M11 0V.3M12 0V.1M13 0V.2M14 0V.1M15 0V.2"/>
<path class="n" transform="translate(64)" d="M0 0V.3M1 0V.7M2 0V.4M3 0V.3M4 0V.7M5 0V3.9M6 0V2.8M7 0V10.2M9 0V1M10 0V.4M11 0V.7M13 0V1.1M14 0V.5M15 0V.6"/>
<path class="p" transform="translate(80)" d="M1 0V.6M2 0V.3M3 0V3M5 0V1.8M6 0V1.3M7 0V20M9 0V.7M10 0V.3M11 0V6.3M13 0V.9M14 0V.3M15 0V5.6"/>
</g>
<!-- Sig 20 -->
<g transform="translate(1074.4 1084.3) scale(5.072 -6.915)">
<path class="a" d="M1 0V.2M3 0V.2M4 0V1.8M5 0V3.8M6 0V1.3M7 0V10.6M9 0V.2M10 0V.3M11 0V1.3M13 0V.4M15 0V1.2"/>
<path class="g" transform="translate(16)" d="M0 0V.1M4 0V.1M7 0V.1M9 0V.1M12 0V.1"/>
<path class="r" transform="translate(32)" d="M0 0V3M1 0V2.2M2 0V3.5M3 0V2M4 0V1.4M5 0V2M6 0V4.6M7 0V1.4M8 0V5.4M9 0V5.3M11 0V4.9M12 0V1.2M13 0V.7M14 0V2.5M15 0V.9"/>
<path class="y" transform="translate(48)" d="M2 0V.1M3 0V.2M5 0V.2M6 0V.1M9 0V.3M11 0V.1"/>
<path class="n" transform="translate(64)" d="M0 0V1.6M1 0V2.1M2 0V5.8M3 0V.8M4 0V1.5M5 0V1.9M6 0V7.9M7 0V1M9 0V.1M10 0V2.8M12 0V.4M13 0V1.1M14 0V2.4M15 0V.3"/>
<path class="p" transform="translate(80)" d="M5 0V.9M6 0V1.7M9 0V.2M10 0V.3M11 0V.3M12 0V.2"/>
</g>
</g>

<!-- category bars top -->
<rect class="fa" x="66.4" y="21.8" width="80.07" height="7.8"/><rect class="fg" x="147.47" y="21.8" width="80.07" height="7.8"/><rect class="fr" x="228.54" y="21.8" width="80.07" height="7.8"/><rect class="fy" x="309.61" y="21.8" width="80.07" height="7.8"/><rect class="fn" x="390.68" y="21.8" width="80.07" height="7.8"/><rect class="fp" x="471.75" y="21.8" width="80.07" height="7.8"/>
<rect class="fa" x="570.5" y="21.8" width="80.33" height="7.8"/><rect class="fg" x="651.83" y="21.8" width="80.33" height="7.8"/><rect class="fr" x="733.16" y="21.8" width="80.33" height="7.8"/><rect class="fy" x="814.49" y="21.8" width="80.33" height="7.8"/><rect class="fn" x="895.82" y="21.8" width="80.33" height="7.8"/><rect class="fp" x="977.15" y="21.8" width="80.33" height="7.8"/>
<rect class="fa" x="1075" y="21.8" width="79.67" height="7.8"/><rect class="fg" x="1155.67" y="21.8" width="79.67" height="7.8"/><rect class="fr" x="1236.34" y="21.8" width="79.67" height="7.8"/><rect class="fy" x="1317.01" y="21.8" width="79.67" height="7.8"/><rect class="fn" x="1397.68" y="21.8" width="79.67" height="7.8"/><rect class="fp" x="1478.35" y="21.8" width="79.67" height="7.8"/>
<!-- category bars bottom -->
<rect class="fa" x="67" y="1244.6" width="79.75" height="8.4"/><rect class="fg" x="147.75" y="1244.6" width="79.75" height="8.4"/><rect class="fr" x="228.5" y="1244.6" width="79.75" height="8.4"/><rect class="fy" x="309.25" y="1244.6" width="79.75" height="8.4"/><rect class="fn" x="390" y="1244.6" width="79.75" height="8.4"/><rect class="fp" x="470.75" y="1244.6" width="79.75" height="8.4"/>
<rect class="fa" x="571" y="1096" width="80.25" height="8.6"/><rect class="fg" x="652.25" y="1096" width="80.25" height="8.6"/><rect class="fr" x="733.5" y="1096" width="80.25" height="8.6"/><rect class="fy" x="814.75" y="1096" width="80.25" height="8.6"/><rect class="fn" x="896" y="1096" width="80.25" height="8.6"/><rect class="fp" x="977.25" y="1096" width="80.25" height="8.6"/>
<rect class="fa" x="1075.5" y="1096" width="79.8" height="8.6"/><rect class="fg" x="1156.3" y="1096" width="79.8" height="8.6"/><rect class="fr" x="1237.1" y="1096" width="79.8" height="8.6"/><rect class="fy" x="1317.9" y="1096" width="79.8" height="8.6"/><rect class="fn" x="1398.7" y="1096" width="79.8" height="8.6"/><rect class="fp" x="1479.5" y="1096" width="79.8" height="8.6"/>

<!-- category labels -->
<text class="cl" x="106.4" y="17.2">C&gt;A</text><text class="cl" x="187.5" y="17.2">C&gt;G</text><text class="cl" x="268.6" y="17.2">C&gt;T</text><text class="cl" x="349.6" y="17.2">T&gt;A</text><text class="cl" x="430.7" y="17.2">T&gt;C</text><text class="cl" x="511.8" y="17.2">T&gt;G</text>
<text class="cl" x="610.7" y="17.2">C&gt;A</text><text class="cl" x="692" y="17.2">C&gt;G</text><text class="cl" x="773.3" y="17.2">C&gt;T</text><text class="cl" x="854.7" y="17.2">T&gt;A</text><text class="cl" x="936" y="17.2">T&gt;C</text><text class="cl" x="1017.3" y="17.2">T&gt;G</text>
<text class="cl" x="1114.8" y="17.2">C&gt;A</text><text class="cl" x="1195.5" y="17.2">C&gt;G</text><text class="cl" x="1276.2" y="17.2">C&gt;T</text><text class="cl" x="1356.9" y="17.2">T&gt;A</text><text class="cl" x="1437.5" y="17.2">T&gt;C</text><text class="cl" x="1518.2" y="17.2">T&gt;G</text>
<text class="cl" x="106.9" y="1272">C&gt;A</text><text class="cl" x="187.6" y="1272">C&gt;G</text><text class="cl" x="268.4" y="1272">C&gt;T</text><text class="cl" x="349.1" y="1272">T&gt;A</text><text class="cl" x="429.9" y="1272">T&gt;C</text><text class="cl" x="510.6" y="1272">T&gt;G</text>
<text class="cl" x="611.1" y="1123.5">C&gt;A</text><text class="cl" x="692.4" y="1123.5">C&gt;G</text><text class="cl" x="773.6" y="1123.5">C&gt;T</text><text class="cl" x="854.9" y="1123.5">T&gt;A</text><text class="cl" x="936.1" y="1123.5">T&gt;C</text><text class="cl" x="1017.4" y="1123.5">T&gt;G</text>
<text class="cl" x="1115.4" y="1123.5">C&gt;A</text><text class="cl" x="1196.2" y="1123.5">C&gt;G</text><text class="cl" x="1277" y="1123.5">C&gt;T</text><text class="cl" x="1357.8" y="1123.5">T&gt;A</text><text class="cl" x="1438.6" y="1123.5">T&gt;C</text><text class="cl" x="1519.4" y="1123.5">T&gt;G</text>

<!-- y ticks -->
<text class="tk" x="58.5" y="53.5">20</text><text class="tk" x="58.5" y="113.15">10</text><text class="tk" x="58.5" y="176.8">0</text>
<text class="tk" x="58.5" y="205">20</text><text class="tk" x="58.5" y="264.65">10</text><text class="tk" x="58.5" y="328.3">0</text>
<text class="tk" x="58.5" y="356.5">20</text><text class="tk" x="58.5" y="416.15">10</text><text class="tk" x="58.5" y="479.8">0</text>
<text class="tk" x="58.5" y="508">20</text><text class="tk" x="58.5" y="567.65">10</text><text class="tk" x="58.5" y="631.3">0</text>
<text class="tk" x="58.5" y="659.5">20</text><text class="tk" x="58.5" y="719.15">10</text><text class="tk" x="58.5" y="782.8">0</text>
<text class="tk" x="58.5" y="811">20</text><text class="tk" x="58.5" y="870.65">10</text><text class="tk" x="58.5" y="934.3">0</text>
<text class="tk" x="58.5" y="962.5">20</text><text class="tk" x="58.5" y="1022.15">10</text><text class="tk" x="58.5" y="1085.8">0</text>
<text class="tk" x="58.5" y="1114">20</text><text class="tk" x="58.5" y="1173.65">10</text><text class="tk" x="58.5" y="1237.3">0</text>

<text transform="translate(18.5 637.4) rotate(-90)" style="font-size:21px;text-anchor:middle">Percentage of mutations</text>

<!-- titles -->
<text class="tt" x="76.2" y="60">Signature 1A</text>
<text class="tt" x="76.2" y="214">Signature 3</text>
<text class="tt" x="76.2" y="364">Signature 6</text>
<text class="tt" x="76.2" y="515.2">Signature 9</text>
<text class="tt" x="76.2" y="667">Signature 12</text>
<text class="tt" x="76.2" y="818.5">Signature 15</text>
<text class="tt" x="76.2" y="970">Signature 18</text>
<text class="tt" x="76.2" y="1122.2">Signature 21</text>
<text class="tt" x="577.7" y="61.7">Signature 1B</text>
<text class="tt" x="577.7" y="214.9">Signature 4</text>
<text class="tt" x="577.7" y="363.6">Signature 7</text>
<text class="tt" x="577.7" y="515.8">Signature 10</text>
<text class="tt" x="577.7" y="667">Signature 13</text>
<text class="tt" x="577.7" y="825">Signature 16</text>
<text class="tt" x="577.7" y="970">Signature 19</text>
<text class="tt" x="1082.5" y="58.8">Signature 2</text>
<text class="tt" x="1082.5" y="215.3">Signature 5</text>
<text class="tt" x="1082.5" y="364.4">Signature 8</text>
<text class="tt" x="1082.5" y="517.4">Signature 11</text>
<text class="tt" x="1082.5" y="667">Signature 14</text>
<text class="tt" x="1082.5" y="818.8">Signature 17</text>
<text class="tt" x="1082.5" y="970">Signature 20</text>

<!-- boxes -->
<g fill="#fff" stroke-width="1.8">
<rect x="199.9" y="192.9" width="23.2" height="23.2" stroke="#a27a4f"/>
<rect x="705.9" y="196.9" width="23.2" height="22.8" stroke="#b3b5b8"/>
<rect x="736.9" y="196.9" width="23.2" height="22.8" stroke="#1c3f94"/>
<rect x="1208.9" y="195.9" width="22.7" height="23.7" stroke="#b3b5b8"/>
<rect x="1237.9" y="195.9" width="24.2" height="23.7" stroke="#1c3f94"/>
<rect x="199.9" y="345.5" width="23.2" height="23.2" stroke="#a27a4f"/>
<rect x="705.9" y="344.9" width="23.2" height="23.2" stroke="#b3b5b8"/>
<rect x="739.9" y="344.9" width="23.2" height="23.2" stroke="#1c3f94"/>
<rect x="1208.5" y="343.9" width="23.2" height="23.2" stroke="#1c3f94"/>
<rect x="717.9" y="496.9" width="23.2" height="22.7" stroke="#1c3f94"/>
<rect x="215.5" y="649.9" width="22.9" height="22.2" stroke="#1c3f94"/>
<rect x="215.5" y="800.9" width="22.9" height="22.2" stroke="#a27a4f"/>
<rect x="717.9" y="806.4" width="23.2" height="22.7" stroke="#1c3f94"/>
<rect x="588.9" y="1138.9" width="22.8" height="22.2" stroke="#b3b5b8"/>
<rect x="933.5" y="1138.9" width="23.6" height="22.2" stroke="#1c3f94"/>
<rect x="1316.9" y="1138.9" width="24.2" height="22.2" stroke="#a27a4f"/>
</g>
<text class="bl" x="211.5" y="212.6" style="fill:#a27a4f">I</text>
<text class="bl" x="717.5" y="216.4" style="fill:#a9abae">D</text>
<text class="bl" x="748.5" y="216.4" style="fill:#1c3f94">T</text>
<text class="bl" x="1220.25" y="215.85" style="fill:#a9abae">D</text>
<text class="bl" x="1250" y="215.85" style="fill:#1c3f94">T</text>
<text class="bl" x="211.5" y="365.2" style="fill:#a27a4f">I</text>
<text class="bl" x="717.5" y="364.6" style="fill:#a9abae">D</text>
<text class="bl" x="751.5" y="364.6" style="fill:#1c3f94">T</text>
<text class="bl" x="1220.1" y="363.6" style="fill:#1c3f94">T</text>
<text class="bl" x="729.5" y="516.35" style="fill:#1c3f94">T</text>
<text class="bl" x="226.95" y="669.1" style="fill:#1c3f94">T</text>
<text class="bl" x="226.95" y="820.1" style="fill:#a27a4f">I</text>
<text class="bl" x="729.5" y="825.85" style="fill:#1c3f94">T</text>
<text class="bl" x="600.3" y="1158.1" style="fill:#a9abae">D</text>
<text class="bl" x="945.3" y="1158.1" style="fill:#1c3f94">T</text>
<text class="bl" x="1329" y="1158.1" style="fill:#a27a4f">I</text>

<!-- legend -->
<text class="lg" x="623" y="1160" textLength="216" lengthAdjust="spacingAndGlyphs">Dinucleotide mutations</text>
<text class="lg" x="965" y="1160" textLength="247" lengthAdjust="spacingAndGlyphs">Transcriptional strand bias</text>
<text class="lg" x="1352" y="1160">Indels</text>

<!-- asterisks -->
<text class="st" x="1306" y="68.6">*</text>
<text class="st" x="808.9" y="369.3">*</text>
<text class="st" x="655.1" y="575.4">*</text>
<text class="st" x="813.5" y="518.3">*</text>
<text class="st" x="720.3" y="670.8">*</text>
<text class="st" x="738.5" y="670.8">*</text>
<text class="st" x="1524.8" y="825.2">*</text>
</svg>
</body></html>
